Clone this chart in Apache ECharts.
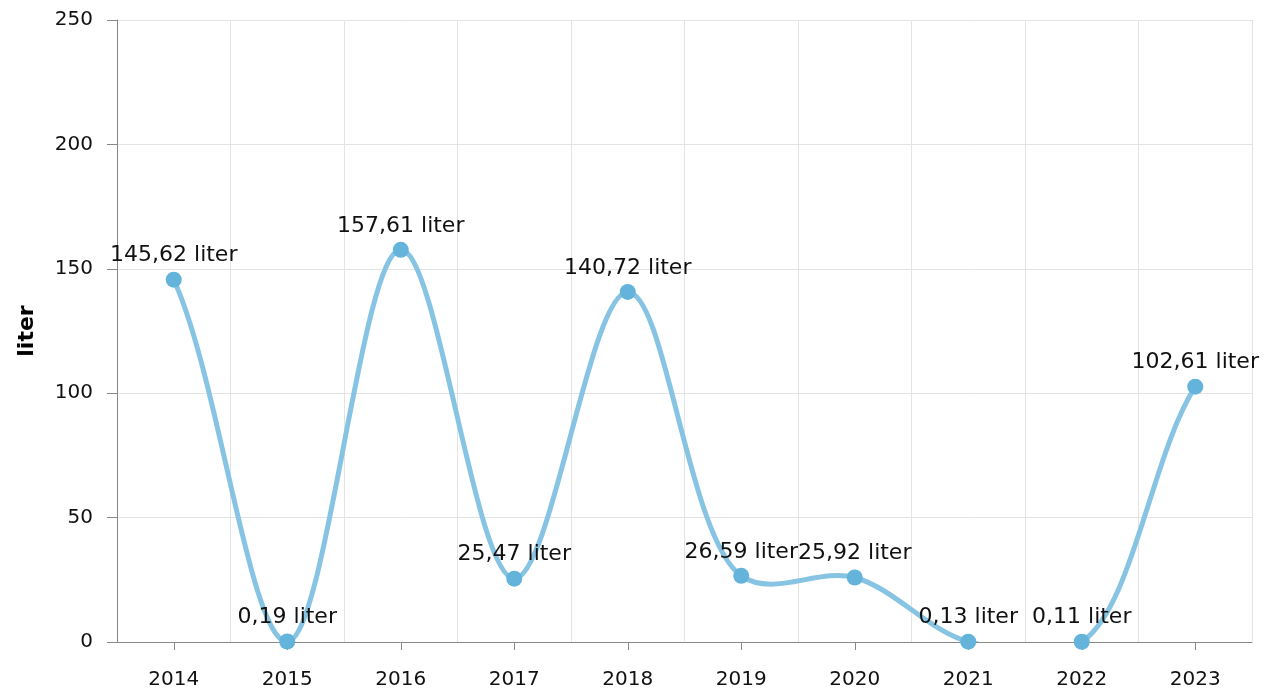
<!DOCTYPE html>
<html>
<head>
<meta charset="utf-8">
<script src="https://cdn.jsdelivr.net/npm/echarts@6/dist/echarts.min.js"></script>
<style>
  html, body { margin: 0; padding: 0; background: #fff; }
  #chart { width: 1273px; height: 693px; }
</style>
</head>
<body>
<div id="chart"></div>
<script>
var years = ['2014', '2015', '2016', '2017', '2018', '2019', '2020', '2021', '2022', '2023'];
var liters = [145.62, 0.19, 157.61, 25.47, 140.72, 26.59, 25.92, 0.13, 0.11, 102.61];
var yTicks = [0, 50, 100, 150, 200, 250];

var chart = echarts.init(document.getElementById('chart'));
var font = 'DejaVu Sans';
var lineColor = '#87c4e3';
var dotColor = '#63b3db';

// pixel position of point k (ends get a half-flattened phantom neighbour)
function pointAt(api, k) {
  var n = liters.length;
  if (k >= 0 && k < n) return api.coord([k, liters[k]]);
  var edge = k < 0 ? 0 : n - 1;
  var inner = k < 0 ? 1 : n - 2;
  var pe = api.coord([edge, liters[edge]]);
  var pi = api.coord([inner, liters[inner]]);
  return [2 * pe[0] - pi[0], pe[1] - 0.5 * (pi[1] - pe[1])];
}

// centripetal catmull-rom segment i -> i+1
function splineSegment(params, api) {
  var i = params.dataIndex;
  if (i >= liters.length - 1) return;
  var p0 = pointAt(api, i - 1), p1 = pointAt(api, i), p2 = pointAt(api, i + 1), p3 = pointAt(api, i + 2);
  var alpha = 0.5;
  var d = function (a, b) { return Math.sqrt((a[0] - b[0]) * (a[0] - b[0]) + (a[1] - b[1]) * (a[1] - b[1])); };
  var l01 = d(p0, p1), l12 = d(p1, p2), l23 = d(p2, p3);
  var l01a = Math.pow(l01, alpha), l12a = Math.pow(l12, alpha), l23a = Math.pow(l23, alpha);
  var l01_2a = Math.pow(l01, 2 * alpha), l12_2a = Math.pow(l12, 2 * alpha), l23_2a = Math.pow(l23, 2 * alpha);
  var a = 2 * l01_2a + 3 * l01a * l12a + l12_2a;
  var m1 = 3 * l01a * (l01a + l12a);
  var c1 = [(p1[0] * a - p0[0] * l12_2a + p2[0] * l01_2a) / m1,
            (p1[1] * a - p0[1] * l12_2a + p2[1] * l01_2a) / m1];
  var b = 2 * l23_2a + 3 * l23a * l12a + l12_2a;
  var m2 = 3 * l23a * (l23a + l12a);
  var c2 = [(p2[0] * b + p1[0] * l23_2a - p3[0] * l12_2a) / m2,
            (p2[1] * b + p1[1] * l23_2a - p3[1] * l12_2a) / m2];
  return {
    type: 'bezierCurve',
    shape: {
      x1: p1[0], y1: p1[1], x2: p2[0], y2: p2[1],
      cpx1: c1[0], cpy1: c1[1], cpx2: c2[0], cpy2: c2[1]
    },
    style: { stroke: lineColor, lineWidth: 5, fill: null, lineCap: 'round' }
  };
}

var option = {
  backgroundColor: '#fff',
  animation: false,
  textStyle: { fontFamily: font },
  grid: { left: 117, right: 21, top: 20, bottom: 51 },
  xAxis: {
    type: 'category',
    data: years,
    boundaryGap: true,
    axisLine: { lineStyle: { color: '#888', width: 1 } },
    axisTick: { show: true, alignWithLabel: true, length: 8, lineStyle: { color: '#888' } },
    axisLabel: { color: '#111', fontSize: 20, fontFamily: font, margin: 28 },
    splitLine: { show: true, lineStyle: { color: '#e3e3e3', width: 1 } }
  },
  yAxis: {
    type: 'value',
    min: yTicks[0],
    max: yTicks[yTicks.length - 1],
    interval: 50,
    name: 'liter',
    nameLocation: 'middle',
    nameGap: 79,
    nameTextStyle: { color: '#000', fontSize: 22, fontWeight: 'bold', fontFamily: font },
    axisLine: { show: true, lineStyle: { color: '#888', width: 1 } },
    axisTick: { show: true, length: 10, lineStyle: { color: '#888' } },
    axisLabel: { color: '#111', fontSize: 20, fontFamily: font, margin: 24 },
    splitLine: { show: true, lineStyle: { color: '#e3e3e3', width: 1 } }
  },
  series: [{
    type: 'custom',
    renderItem: splineSegment,
    data: liters.map(function (v, i) { return [i, v]; }),
    encode: { x: 0, y: 1 },
    clip: true,
    z: 2
  }, {
    type: 'scatter',
    data: liters,
    symbol: 'circle',
    symbolSize: 16,
    itemStyle: { color: dotColor, opacity: 1 },
    z: 5,
    label: {
      show: true,
      position: 'top',
      distance: 5,
      color: '#111',
      fontSize: 22,
      fontFamily: font,
      formatter: function (p) {
        return p.value.toFixed(2).replace('.', ',') + ' liter';
      }
    }
  }]
};

chart.setOption(option);
window.onresize = function () { chart.resize(); };
</script>
</body>
</html>
